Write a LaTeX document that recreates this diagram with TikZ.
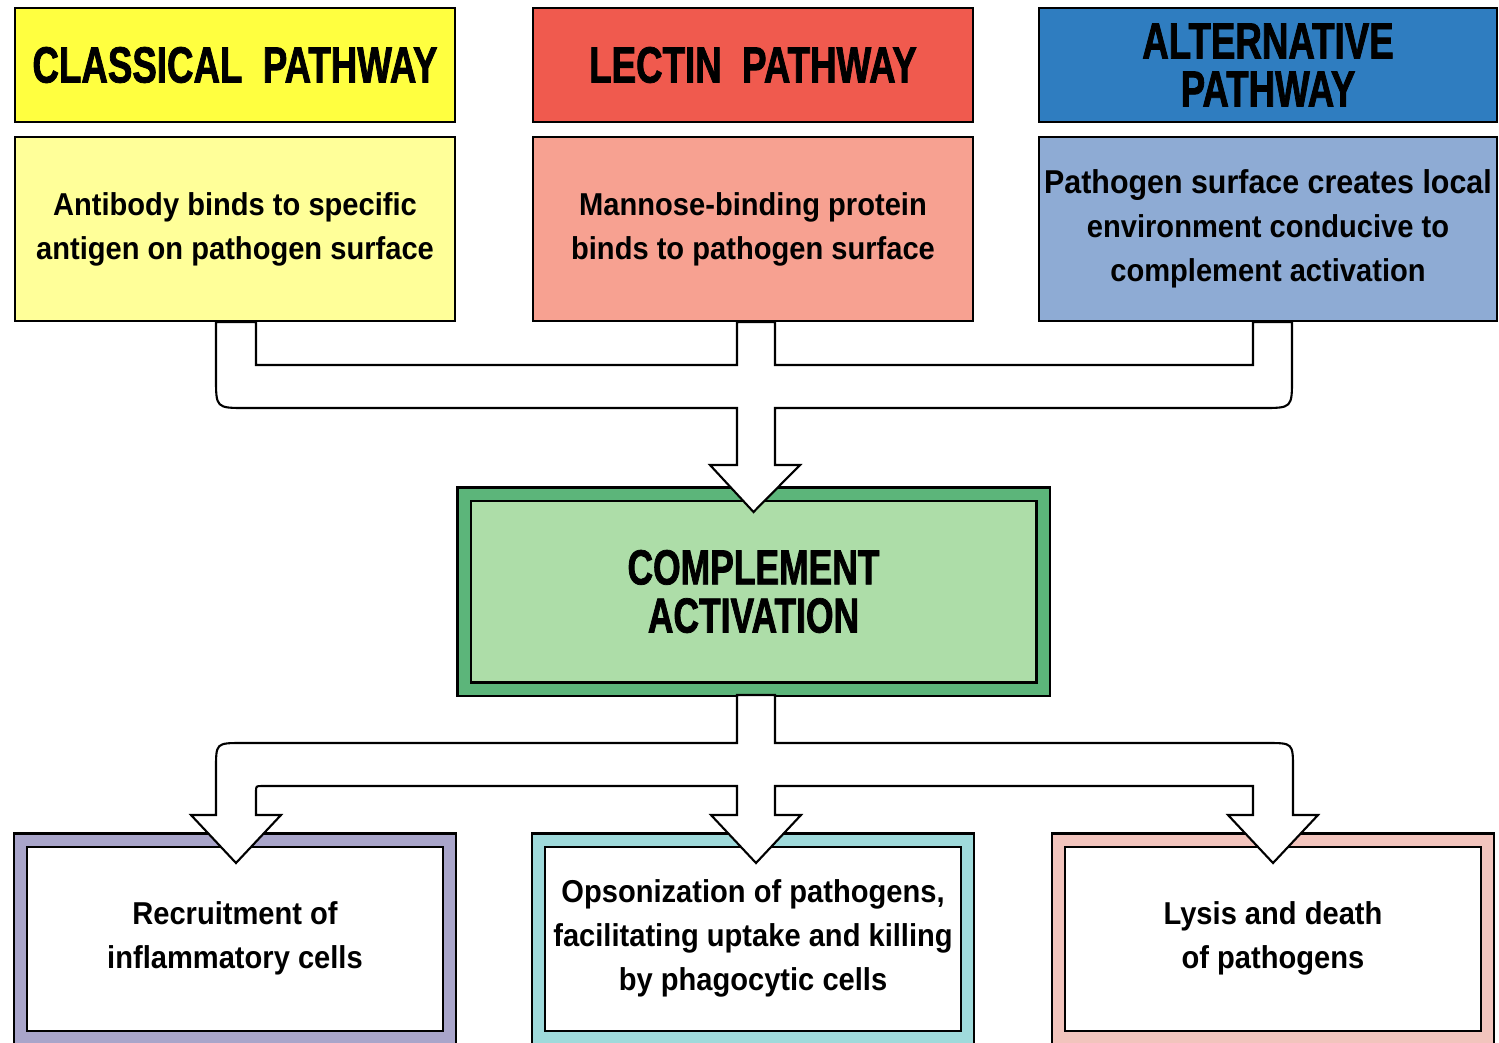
\documentclass[tikz,border=0pt]{standalone}
\usepackage{fontspec}
\setmainfont{Liberation Sans}
\newfontfamily\headfont[FakeStretch=0.72,FakeBold=1.5]{Liberation Sans}
\newfontfamily\bodyfont[FakeStretch=0.92]{Liberation Sans}
\usetikzlibrary{positioning}
\definecolor{clhead}{HTML}{FFFF40}
\definecolor{cldesc}{HTML}{FFFF99}
\definecolor{lehead}{HTML}{F05A4E}
\definecolor{ledesc}{HTML}{F7A191}
\definecolor{alhead}{HTML}{2F7DC0}
\definecolor{aldesc}{HTML}{8EABD4}
\definecolor{coband}{HTML}{5CB57A}
\definecolor{cofill}{HTML}{ADDDA8}
\definecolor{reband}{HTML}{A9A5CA}
\definecolor{opband}{HTML}{9FDADB}
\definecolor{lyband}{HTML}{F2C4BD}

\begin{document}
\begin{tikzpicture}[line width=0.6pt,
    head/.style={rectangle, draw=black, inner sep=0pt, minimum width=4.40cm, minimum height=1.14cm,
      align=center, font=\headfont\bfseries\fontsize{14.5}{13.7}\selectfont},
    desc/.style={rectangle, draw=black, inner sep=0pt, minimum width=4.40cm, minimum height=1.84cm,
      align=center, font=\bodyfont\bfseries\fontsize{9}{12.5}\selectfont},
    outcome/.style={rectangle, draw=black, fill=white, double=#1, double distance=0.11cm,
      outer sep=0.06cm, inner sep=0pt, minimum width=4.29cm, minimum height=1.975cm,
      align=center, font=\bodyfont\bfseries\fontsize{9}{12.5}\selectfont},
    pipe/.style={draw=black, fill=white, line join=miter}]
  \useasboundingbox (0,0) rectangle (14.99,-10.42);
  \clip (0,0) rectangle (14.99,-10.42);

  % the three pathways
  \node[head, fill=clhead] (chead) at (2.35,-0.65) {CLASSICAL\ \ PATHWAY};
  \node[head, fill=lehead] (lhead) at (7.53,-0.65) {LECTIN\ \ PATHWAY};
  \node[head, fill=alhead, minimum width=4.58cm] (ahead) at (12.68,-0.65) {ALTERNATIVE\\PATHWAY};
  \node[desc, fill=cldesc] (cdesc) at (2.35,-2.29) {Antibody binds to specific\\antigen on pathogen surface};
  \node[desc, fill=ledesc] (ldesc) at (7.53,-2.29) {Mannose-binding protein\\binds to pathogen surface};
  \node[desc, fill=aldesc, minimum width=4.58cm] (adesc) at (12.68,-2.29)
    {\fontsize{9.4}{12.5}\selectfont Pathogen surface creates local\\environment conducive to\\complement activation};

  \node[rectangle, draw=black, fill=cofill, double=coband, double distance=0.11cm, outer sep=0.06cm,
    minimum width=5.79cm, minimum height=1.95cm, align=center,
    font=\headfont\bfseries\fontsize{14}{13.7}\selectfont] (compl) at (7.535,-5.915) {COMPLEMENT\\ACTIVATION};

  \node[outcome=reband] (rbox) at (2.35,-9.3875) {Recruitment of\\inflammatory cells};
  \node[outcome=opband] (obox) at (7.53,-9.3875) {Opsonization of pathogens,\\facilitating uptake and killing\\by phagocytic cells};
  \node[outcome=lyband] (lbox) at (12.73,-9.3875) {Lysis and death\\of pathogens};

  % merging arrow
  \draw[pipe] ([xshift=-0.19cm]cdesc.south) -- (2.16,-3.78) .. controls (2.16,-4.08) .. (2.46,-4.08)
    -- (7.37,-4.08) -- (7.37,-4.65) -- (7.10,-4.65) -- ([yshift=-0.24cm]compl.north)
    -- (8.00,-4.65) -- (7.75,-4.65) -- (7.75,-4.08) -- (12.62,-4.08) .. controls (12.92,-4.08) .. (12.92,-3.78)
    -- ([xshift=0.24cm]adesc.south) -- ([xshift=-0.15cm]adesc.south) -- (12.53,-3.65) -- (7.75,-3.65)
    -- ([xshift=0.22cm]ldesc.south) -- ([xshift=-0.16cm]ldesc.south) -- (7.37,-3.65) -- (2.56,-3.65)
    -- ([xshift=0.21cm]cdesc.south) -- cycle;

  % splitting arrow
  \draw[pipe] ([xshift=-0.165cm]compl.south) -- (7.37,-7.43) -- (2.42,-7.43) .. controls (2.16,-7.43) .. (2.16,-7.69)
    -- (2.16,-8.15) -- (1.91,-8.15) -- ([xshift=0.01cm, yshift=-0.29cm]rbox.north) -- (2.81,-8.15) -- (2.56,-8.15)
    -- (2.56,-7.92) .. controls (2.56,-7.86) .. (2.62,-7.86) -- (7.37,-7.86) -- (7.37,-8.15) -- (7.11,-8.15)
    -- ([xshift=0.03cm, yshift=-0.29cm]obox.north) -- (8.01,-8.15) -- (7.75,-8.15) -- (7.75,-7.86) -- (12.53,-7.86)
    -- (12.53,-8.15) -- (12.28,-8.15) -- ([yshift=-0.29cm]lbox.north) -- (13.18,-8.15) -- (12.93,-8.15)
    -- (12.93,-7.69) .. controls (12.93,-7.43) .. (12.67,-7.43) -- (7.75,-7.43) -- ([xshift=0.215cm]compl.south) -- cycle;
\end{tikzpicture}
\end{document}
